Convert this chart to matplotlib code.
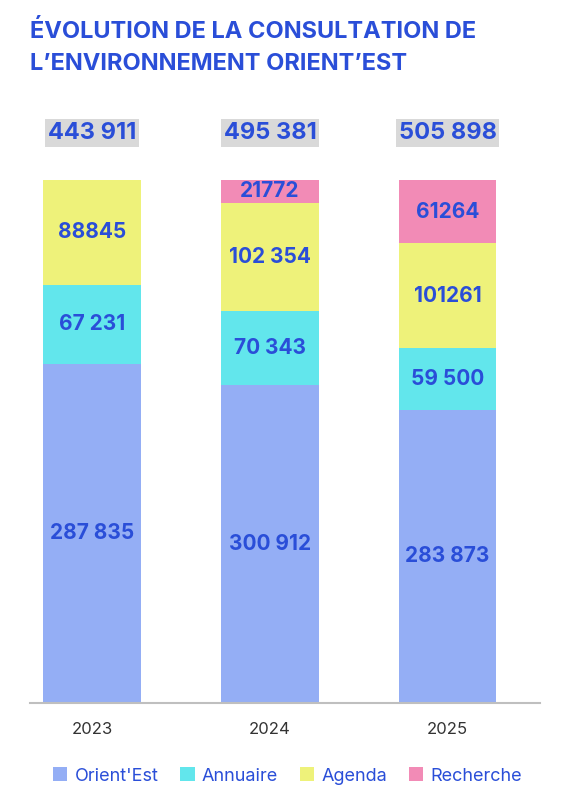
import matplotlib
matplotlib.use("Agg")
import matplotlib.pyplot as plt
import numpy as np

years = ["2023", "2024", "2025"]
series_names = ["Orient'Est", "Annuaire", "Agenda", "Recherche"]
orientest = [287835, 300912, 283873]
annuaire = [67231, 70343, 59500]
agenda = [88845, 102354, 101261]
recherche = [0, 21772, 61264]
labels = {
    "Orient'Est": ["287 835", "300 912", "283 873"],
    "Annuaire": ["67 231", "70 343", "59 500"],
    "Agenda": ["88845", "102 354", "101261"],
    "Recherche": ["", "21772", "61264"],
}
totals_lbl = ["443 911", "495 381", "505 898"]
colors = ["#94aef5", "#62e6ec", "#eef27a", "#f28bb6"]
blue = "#2a4ed8"

plt.rcParams['font.family'] = ['Inter', 'DejaVu Sans']
fig = plt.figure(figsize=(5.75, 8), dpi=100)
ax = fig.add_axes([30/575, 97/800, 510/575, 523/800])
data = np.array([orientest, annuaire, agenda, recherche], dtype=float)
tot = data.sum(axis=0)
frac = data / tot
x = np.arange(3)
bottom = np.zeros(3)
for i, name in enumerate(series_names):
    ax.bar(x, frac[i], 0.55, bottom=bottom, color=colors[i], label=name)
    for j in range(3):
        if data[i, j] > 0:
            ax.text(x[j], bottom[j] + frac[i, j]/2, labels[name][j], ha='center', va='center',
                    color=blue, fontsize=15, fontweight='bold')
    bottom += frac[i]
for j in range(3):
    ax.text(x[j], 1.09, totals_lbl[j], ha='center', va='center', color=blue, fontsize=17,
            fontweight='bold', bbox=dict(facecolor='#d9d9d9', edgecolor='none', pad=2))
ax.set_xlim(-0.35, 2.52)
ax.set_ylim(0, 1)
for s in ['top', 'right', 'left']:
    ax.spines[s].set_visible(False)
ax.spines['bottom'].set_color('#bfbfbf')
ax.spines['bottom'].set_linewidth(1.5)
ax.set_yticks([])
ax.set_xticks(x)
ax.set_xticklabels(years, fontsize=12, color='#333333')
ax.tick_params(axis='x', length=0, pad=14)
fig.text(30/575, 1-32/800, "ÉVOLUTION DE LA CONSULTATION DE", fontsize=17, fontweight='bold', color=blue, va='center')
fig.text(30/575, 1-64/800, "L’ENVIRONNEMENT ORIENT’EST", fontsize=17, fontweight='bold', color=blue, va='center')
fig.legend(loc='center', bbox_to_anchor=(0.5, 1-776/800), ncol=4, frameon=False, fontsize=13,
           handlelength=0.8, handleheight=0.8, handletextpad=0.4, columnspacing=1.2,
           labelcolor=blue)
fig.savefig("out.png", dpi=100)
